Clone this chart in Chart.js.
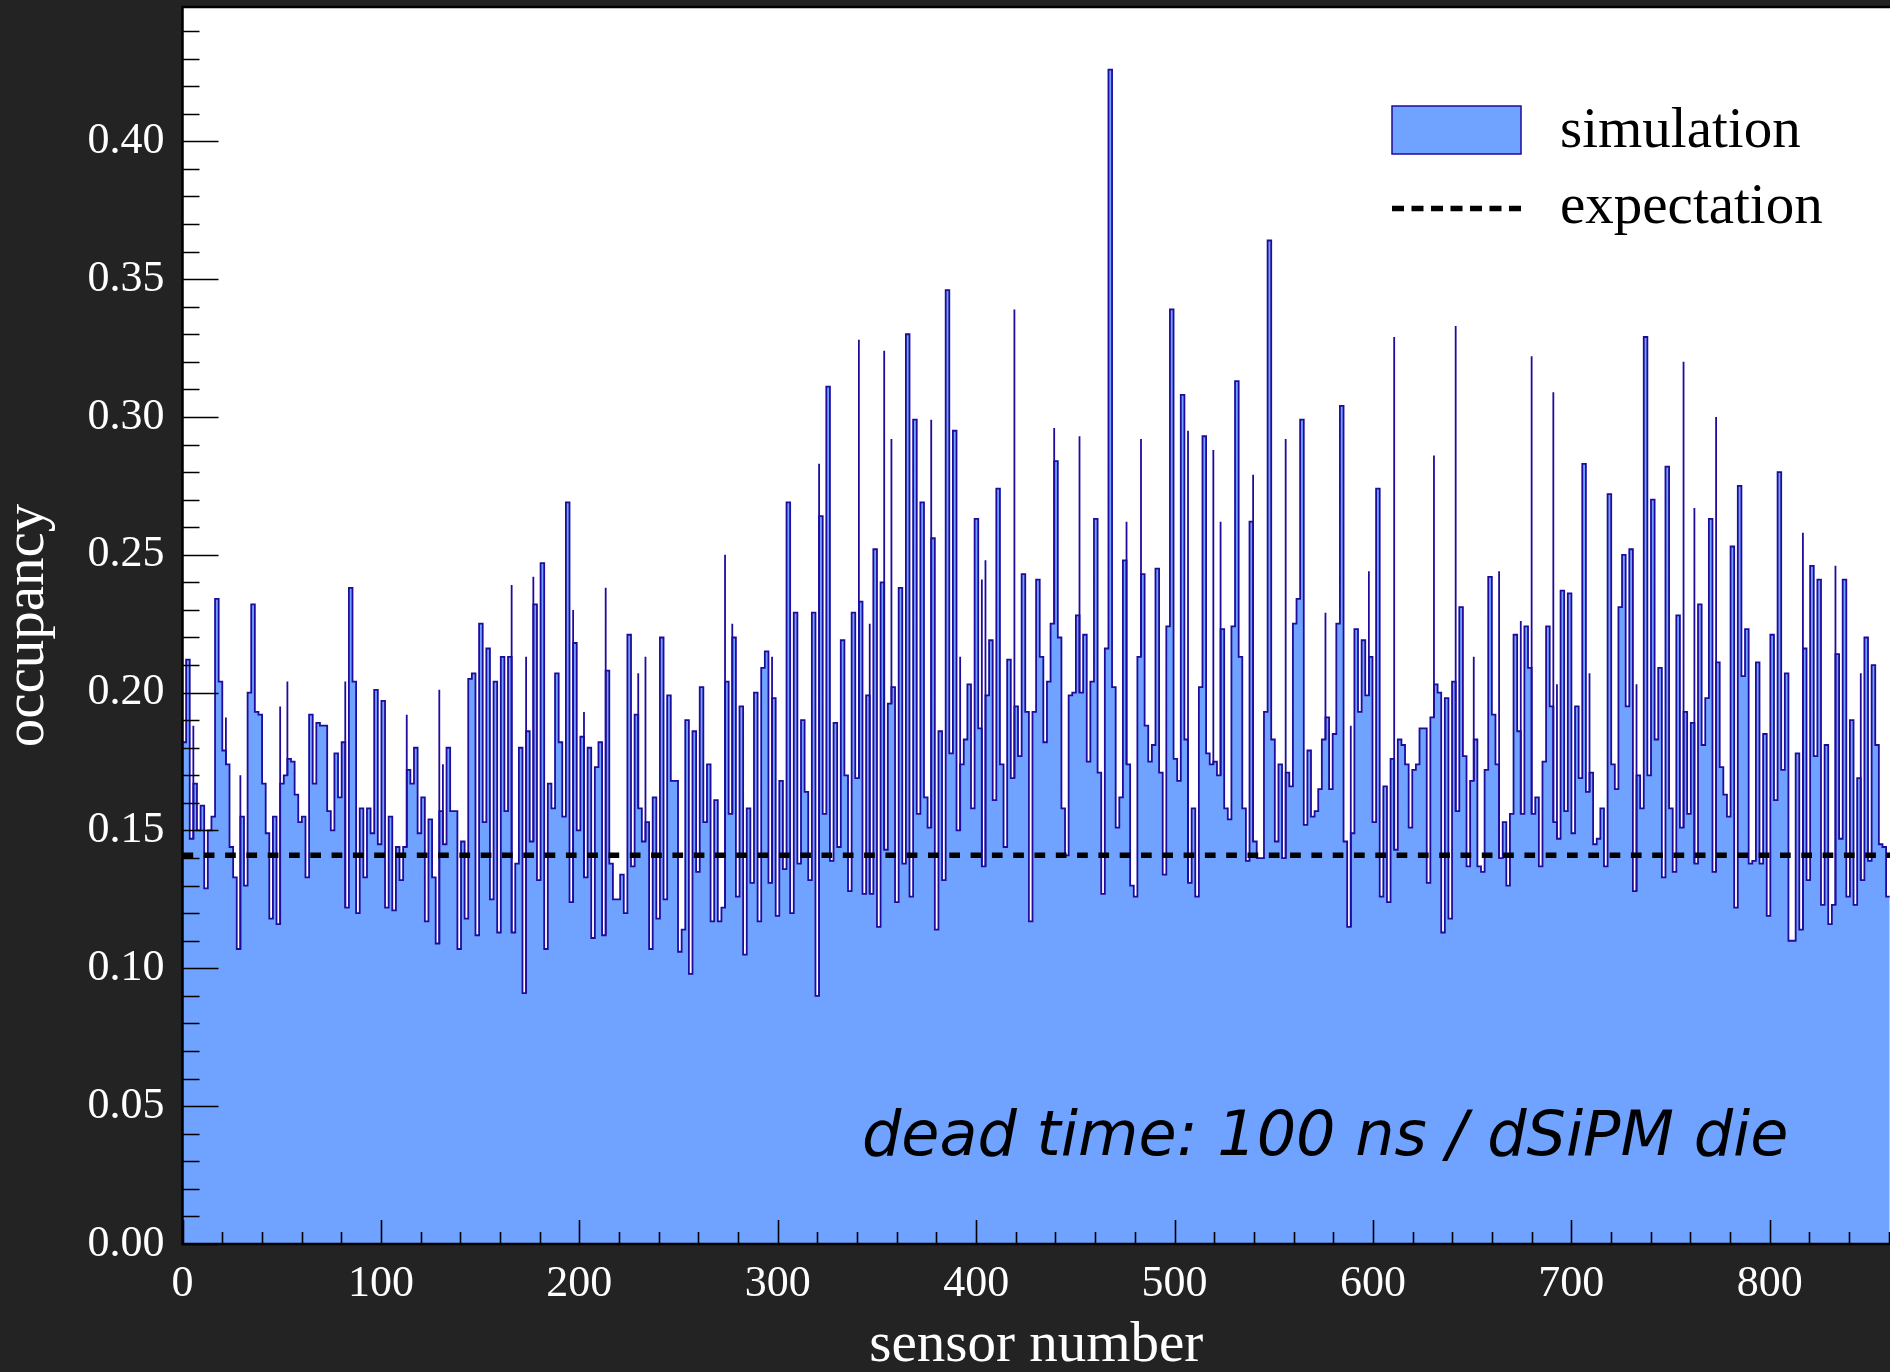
<!DOCTYPE html>
<html>
<head>
<meta charset="utf-8">
<script src="https://cdn.jsdelivr.net/npm/chart.js@4.4.1/dist/chart.umd.min.js"></script>
<style>
  html, body { margin: 0; padding: 0; background: #232323; }
  #wrap { width: 1890px; height: 1372px; }
</style>
</head>
<body>
<div id="wrap"><canvas id="occChart"></canvas></div>
<script>
// histogram: one value per bin, bins of equal width along the sensor axis
var binWidth = 1.823;
var xMax = 860.6, yMax = 0.4487;
var expectation = 0.141;
var occupancy = [
  0.182, 0.212, 0.147, 0.167, 0.150, 0.159, 0.129, 0.150, 0.155, 0.234,
  0.204, 0.179, 0.174, 0.144, 0.133, 0.107, 0.155, 0.130, 0.200, 0.232,
  0.193, 0.192, 0.167, 0.149, 0.118, 0.155, 0.116, 0.167, 0.170, 0.176,
  0.175, 0.163, 0.153, 0.155, 0.133, 0.192, 0.167, 0.189, 0.188, 0.188,
  0.157, 0.150, 0.178, 0.162, 0.182, 0.122, 0.238, 0.204, 0.120, 0.158,
  0.133, 0.158, 0.149, 0.201, 0.145, 0.197, 0.122, 0.155, 0.121, 0.144,
  0.132, 0.144, 0.172, 0.167, 0.180, 0.149, 0.162, 0.117,
  0.154, 0.133, 0.109, 0.157, 0.145, 0.180, 0.157, 0.157, 0.107, 0.146,
  0.118, 0.205, 0.207, 0.112, 0.225, 0.153, 0.216, 0.125, 0.204, 0.113,
  0.213, 0.157, 0.213, 0.113, 0.138, 0.180, 0.091, 0.186, 0.146, 0.232,
  0.132, 0.247, 0.107, 0.167, 0.158, 0.207, 0.182, 0.155, 0.269, 0.124,
  0.218, 0.150, 0.184, 0.133, 0.180, 0.111, 0.173, 0.182, 0.112, 0.208,
  0.138, 0.125, 0.125, 0.134, 0.120, 0.221, 0.137, 0.192, 0.158, 0.146,
  0.153, 0.107, 0.162, 0.118, 0.220, 0.125, 0.199, 0.168,
  0.168, 0.106, 0.114, 0.190, 0.098, 0.186, 0.135, 0.202, 0.153, 0.174,
  0.117, 0.161, 0.117, 0.122, 0.204, 0.156, 0.220, 0.126, 0.195, 0.105,
  0.158, 0.131, 0.200, 0.117, 0.209, 0.215, 0.131, 0.198, 0.119, 0.168,
  0.136, 0.269, 0.120, 0.229, 0.138, 0.190, 0.164, 0.132, 0.229, 0.090,
  0.264, 0.156, 0.311, 0.139, 0.189, 0.144, 0.219, 0.170, 0.128, 0.229,
  0.169, 0.233, 0.127, 0.199, 0.127, 0.252, 0.115, 0.240, 0.143, 0.196,
  0.202, 0.124, 0.238, 0.138, 0.330, 0.126, 0.299,
  0.156, 0.269, 0.162, 0.151, 0.256, 0.114, 0.186, 0.132, 0.346, 0.178,
  0.295, 0.150, 0.174, 0.183, 0.203, 0.158, 0.263, 0.187, 0.137, 0.199,
  0.219, 0.161, 0.274, 0.174, 0.144, 0.212, 0.169, 0.195, 0.177, 0.243,
  0.193, 0.117, 0.193, 0.241, 0.213, 0.182, 0.204, 0.225, 0.284, 0.220,
  0.158, 0.141, 0.199, 0.200, 0.228, 0.200, 0.221, 0.175, 0.204, 0.263,
  0.171, 0.127, 0.216, 0.426, 0.202, 0.151, 0.162, 0.248, 0.174, 0.130,
  0.126, 0.213, 0.243, 0.188, 0.175, 0.181, 0.245, 0.171,
  0.134, 0.224, 0.339, 0.176, 0.168, 0.308, 0.183, 0.131, 0.158, 0.126,
  0.202, 0.293, 0.178, 0.174, 0.175, 0.170, 0.223, 0.158, 0.154, 0.224,
  0.313, 0.213, 0.158, 0.139, 0.262, 0.146, 0.140, 0.140, 0.193, 0.364,
  0.183, 0.146, 0.174, 0.140, 0.171, 0.166, 0.225, 0.234, 0.299, 0.152,
  0.179, 0.155, 0.157, 0.165, 0.183, 0.191, 0.165, 0.185, 0.225, 0.304,
  0.146, 0.115, 0.149, 0.223, 0.193, 0.219, 0.199, 0.213, 0.153, 0.274,
  0.126, 0.166, 0.124, 0.176, 0.143, 0.183, 0.181, 0.174,
  0.151, 0.172, 0.174, 0.187, 0.187, 0.131, 0.191, 0.203, 0.200, 0.113,
  0.198, 0.118, 0.204, 0.157, 0.231, 0.177, 0.137, 0.168, 0.183, 0.137,
  0.135, 0.172, 0.242, 0.192, 0.174, 0.140, 0.153, 0.130, 0.156, 0.221,
  0.186, 0.156, 0.224, 0.209, 0.156, 0.162, 0.137, 0.175, 0.224, 0.195,
  0.153, 0.147, 0.237, 0.157, 0.236, 0.149, 0.195, 0.169, 0.283, 0.164,
  0.171, 0.145, 0.147, 0.158, 0.137, 0.272, 0.174, 0.165, 0.231, 0.250,
  0.195, 0.252, 0.128, 0.170, 0.158, 0.329, 0.170, 0.270,
  0.183, 0.209, 0.133, 0.282, 0.158, 0.135, 0.228, 0.151, 0.193, 0.156,
  0.189, 0.138, 0.232, 0.181, 0.198, 0.263, 0.135, 0.211, 0.173, 0.163,
  0.155, 0.253, 0.122, 0.275, 0.206, 0.223, 0.138, 0.139, 0.211, 0.138,
  0.185, 0.119, 0.221, 0.161, 0.280, 0.172, 0.207, 0.110, 0.110, 0.178,
  0.114, 0.216, 0.132, 0.246, 0.177, 0.241, 0.123, 0.181, 0.116, 0.123,
  0.214, 0.147, 0.241, 0.126, 0.190, 0.123, 0.169, 0.132, 0.220, 0.139,
  0.210, 0.181, 0.145, 0.144, 0.126
];
// thin outline spikes sitting on bin edges: [bin edge index, top value]
var spikes = [
  [3, 0.188], [12, 0.191], [16, 0.170], [27, 0.195], [29, 0.204], [45, 0.204], [62, 0.192],
  [71, 0.201], [72, 0.174], [91, 0.239], [95, 0.213], [97, 0.242], [108, 0.230], [111, 0.193],
  [117, 0.238], [126, 0.207], [128, 0.213],
  [150, 0.250], [152, 0.225], [163, 0.213], [176, 0.283], [187, 0.328], [190, 0.225], [194, 0.324], [196, 0.292],
  [207, 0.299], [215, 0.213], [221, 0.241], [222, 0.248], [230, 0.339], [241, 0.296], [248, 0.293],
  [261, 0.262], [265, 0.292],
  [278, 0.295], [285, 0.288], [287, 0.262], [296, 0.279], [305, 0.292], [316, 0.229], [323, 0.188],
  [328, 0.244], [335, 0.329],
  [346, 0.286], [352, 0.333], [357, 0.213], [364, 0.244], [370, 0.226], [373, 0.322], [379, 0.309],
  [380, 0.203], [389, 0.207], [402, 0.203],
  [415, 0.320], [418, 0.267], [424, 0.300], [448, 0.258], [457, 0.246], [464, 0.207]
];
var seriesNames = ['simulation', 'expectation'];
var deadTimeNote = 'dead time: 100 ns / dSiPM die';

var fillBlue = '#6fa3ff';
var lineBlue = '#1f0c9c';
var serif = '"Liberation Serif", "Times New Roman", serif';

var histPoints = occupancy.map(function (v, i) { return { x: i * binWidth, y: v }; });
histPoints.push({ x: occupancy.length * binWidth, y: occupancy[occupancy.length - 1] });

var spikePoints = [];
spikes.forEach(function (s) {
  var edge = s[0] * binWidth;
  var lo = Math.min(occupancy[s[0] - 1], occupancy[s[0]]);
  spikePoints.push({ x: edge, y: lo }, { x: edge, y: s[1] }, { x: edge, y: null });
});

var framePlugin = {
  id: 'frame',
  beforeDraw: function (chart) {
    var ctx = chart.ctx, a = chart.chartArea;
    ctx.save();
    ctx.fillStyle = '#232323';
    ctx.fillRect(0, 0, chart.width, chart.height);
    ctx.fillStyle = '#ffffff';
    ctx.fillRect(a.left, a.top, a.right - a.left, a.bottom - a.top);
    ctx.restore();
  },
  afterDraw: function (chart) {
    var ctx = chart.ctx, a = chart.chartArea;
    var xs = chart.scales.x, ys = chart.scales.y;
    ctx.save();
    // inward ticks
    ctx.strokeStyle = '#000';
    ctx.lineWidth = 1.6;
    ctx.beginPath();
    for (var i = 0; i <= 44; i++) {
      var py = Math.round(ys.getPixelForValue(i / 100)) + 0.5;
      var len = (i % 5 === 0) ? 36 : 17;
      ctx.moveTo(a.left, py);
      ctx.lineTo(a.left + len, py);
    }
    for (var u = 0; u <= xMax; u += 20) {
      var px = Math.round(xs.getPixelForValue(u)) + 0.5;
      var l2 = (u % 100 === 0) ? 24 : 12;
      ctx.moveTo(px, a.bottom);
      ctx.lineTo(px, a.bottom - l2);
    }
    ctx.stroke();
    // frame
    ctx.lineWidth = 2.5;
    ctx.beginPath();
    ctx.moveTo(a.right + 2, a.top);
    ctx.lineTo(a.left, a.top);
    ctx.lineTo(a.left, a.bottom);
    ctx.lineTo(a.right + 2, a.bottom);
    ctx.stroke();

    // legend
    ctx.fillStyle = fillBlue;
    ctx.fillRect(1392, 106, 129, 48);
    ctx.strokeStyle = lineBlue;
    ctx.lineWidth = 1.5;
    ctx.strokeRect(1392, 106, 129, 48);
    ctx.strokeStyle = '#000';
    ctx.lineWidth = 5.5;
    ctx.setLineDash([12, 7.5]);
    ctx.beginPath();
    ctx.moveTo(1392, 208.5);
    ctx.lineTo(1523, 208.5);
    ctx.stroke();
    ctx.setLineDash([]);
    ctx.fillStyle = '#000';
    ctx.font = '57px ' + serif;
    ctx.textBaseline = 'alphabetic';
    ctx.fillText(seriesNames[0], 1560, 147);
    ctx.fillText(seriesNames[1], 1560, 223);

    // note
    ctx.font = 'italic 62px "DejaVu Sans"';
    ctx.fillText(deadTimeNote, 862, 1155);
    ctx.restore();
  }
};

new Chart(document.getElementById('occChart'), {
  type: 'line',
  data: {
    datasets: [{
      label: seriesNames[1],
      data: [{ x: 0, y: expectation }, { x: xMax, y: expectation }],
      borderColor: '#000',
      borderWidth: 5.5,
      borderDash: [10.7, 10.6],
      pointRadius: 0,
      fill: false,
      order: 0
    }, {
      label: 'spikes',
      data: spikePoints,
      borderColor: lineBlue,
      borderWidth: 1.8,
      pointRadius: 0,
      fill: false,
      spanGaps: false,
      order: 1
    }, {
      label: seriesNames[0],
      data: histPoints,
      stepped: true,
      fill: 'origin',
      backgroundColor: fillBlue,
      borderColor: lineBlue,
      borderWidth: 1.8,
      pointRadius: 0,
      order: 2
    }]
  },
  options: {
    responsive: true,
    maintainAspectRatio: false,
    animation: false,
    devicePixelRatio: 1,
    events: [],
    layout: { padding: { top: 7, right: 0, left: 0, bottom: 0 } },
    plugins: { legend: { display: false }, tooltip: { enabled: false } },
    scales: {
      x: {
        type: 'linear',
        min: 0,
        max: xMax,
        afterFit: function (s) {
          s.height = 128;
          s.paddingLeft = 0; s.paddingRight = 0;
        },
        grid: { display: false, drawTicks: false },
        border: { display: false },
        ticks: {
          stepSize: 100,
          includeBounds: false,
          padding: 14,
          maxRotation: 0,
          autoSkip: false,
          color: '#ffffff',
          font: { family: serif, size: 44 }
        },
        title: {
          display: true,
          text: 'sensor number',
          color: '#ffffff',
          font: { family: serif, size: 57, lineHeight: 0.8 },
          padding: { top: 0, bottom: 3 }
        }
      },
      y: {
        min: 0,
        max: yMax,
        afterFit: function (s) {
          s.width = 182.5;
          s.paddingTop = 0; s.paddingBottom = 0;
        },
        grid: { display: false, drawTicks: false },
        border: { display: false },
        ticks: {
          stepSize: 0.05,
          includeBounds: false,
          padding: 18,
          color: '#ffffff',
          font: { family: serif, size: 44 },
          callback: function (v) { return v.toFixed(2); }
        },
        title: {
          display: true,
          text: 'occupancy',
          color: '#ffffff',
          font: { family: serif, size: 57, lineHeight: 1 },
          padding: { top: 0, bottom: 0 }
        }
      }
    }
  },
  plugins: [framePlugin]
});
</script>
</body>
</html>
